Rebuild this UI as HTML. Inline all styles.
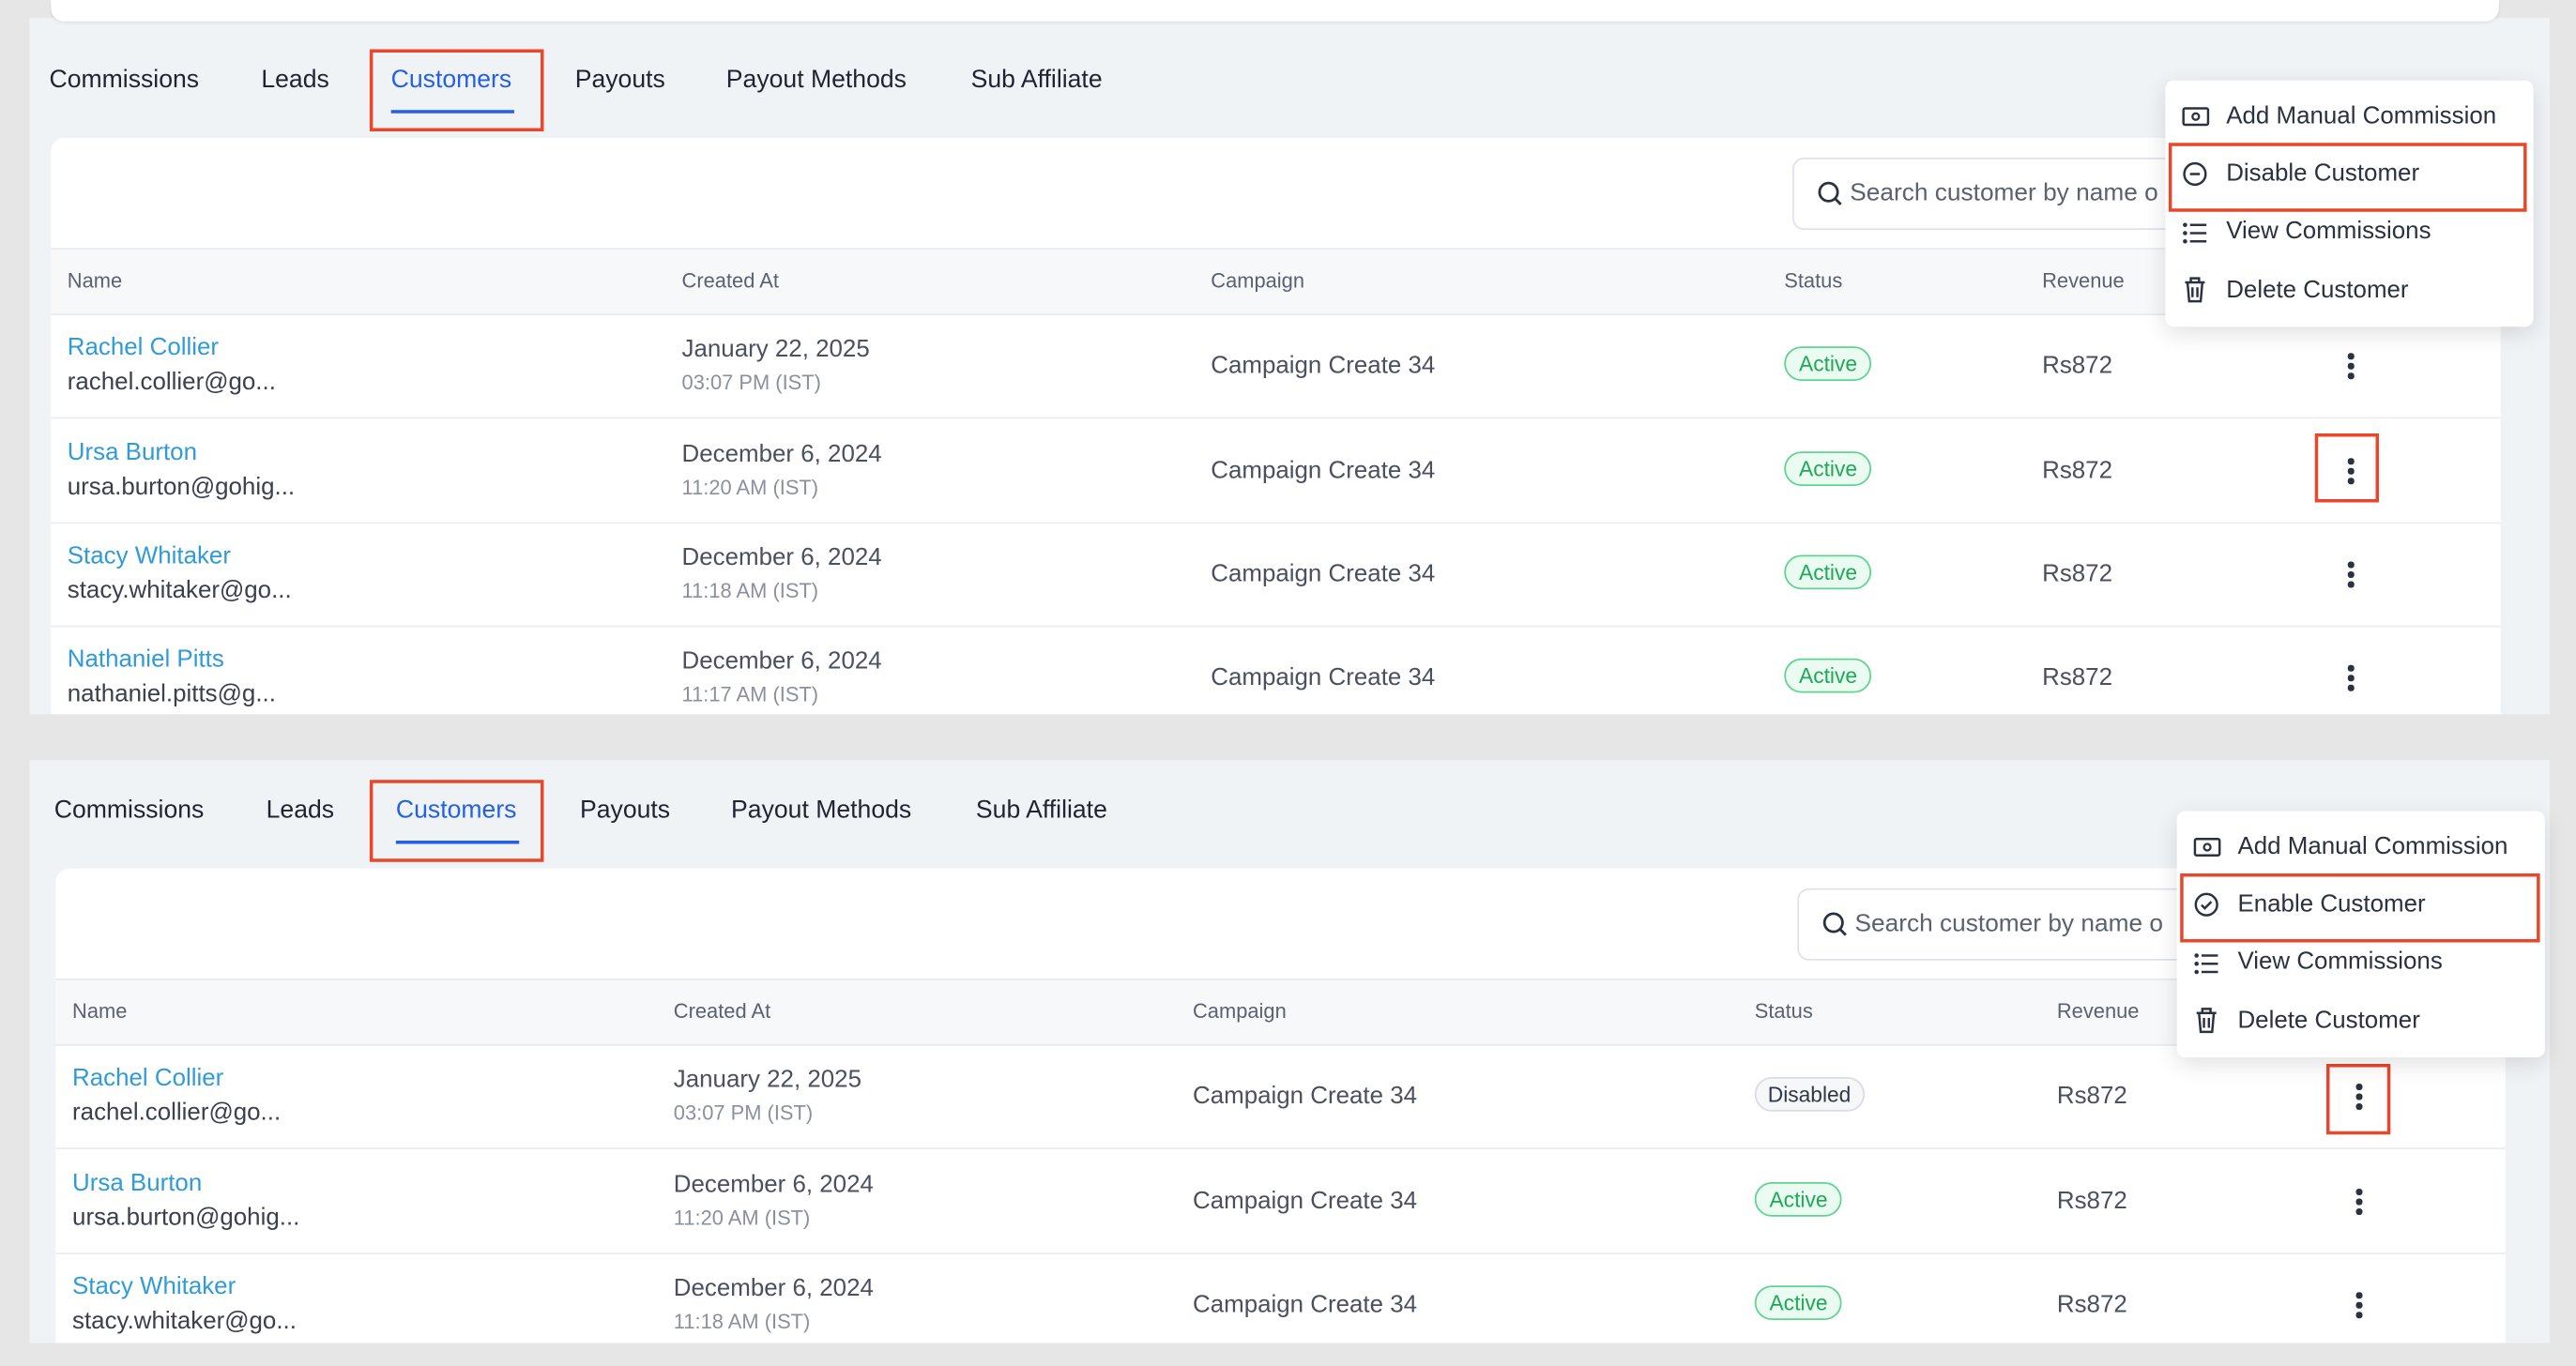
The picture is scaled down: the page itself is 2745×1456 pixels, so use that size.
<!DOCTYPE html>
<html><head><meta charset="utf-8">
<style>
html,body{margin:0;padding:0;background:#e6e6e6;overflow:hidden;}
#root{position:absolute;left:0;top:0;width:1568px;height:832px;transform-origin:0 0;transform:scale(1.7507,1.75);font-family:"Liberation Sans",sans-serif;color:#2a3140;}
.abs{position:absolute;white-space:nowrap;}
.panel{position:absolute;background:#f0f3f6;overflow:hidden;}
.card{position:absolute;background:#fff;border-radius:8px 8px 0 0;overflow:hidden;}
.tab{position:absolute;font-size:15.2px;color:#1f2430;}
.red{position:absolute;border:2px solid #e8472b;box-sizing:border-box;}
.hdr{position:absolute;left:0;right:0;background:#f7f8fa;border-top:1px solid #e7eaee;border-bottom:1px solid #e7eaee;}
.hdr span{position:absolute;top:12px;font-size:12.5px;color:#5a6170;}
.row{position:absolute;left:0;right:0;height:63px;border-bottom:1px solid #e9ecf0;}
.nm{position:absolute;top:13px;font-size:14.8px;color:#2f9bd8;}
.em{position:absolute;top:34px;font-size:14.8px;color:#3a404c;}
.dt{position:absolute;top:14px;font-size:14.8px;color:#4a5060;}
.tm{position:absolute;top:35px;font-size:12.5px;color:#8a909c;}
.cp{position:absolute;top:24px;font-size:14.8px;color:#4a5060;}
.st{position:absolute;top:20px;font-size:13px;color:#1fa855;border:1px solid #5fd38f;background:#eafbf1;border-radius:11px;padding:2px 8px;}
.st.dis{color:#2f3746;border-color:#d9dce2;background:#f6f7f9;padding:2px 7px;}
.rv{position:absolute;top:24px;font-size:14.8px;color:#4a5060;}
.dots{position:absolute;top:24px;width:4px;}
.dots i{display:block;width:3.6px;height:3.6px;border-radius:50%;background:#2a3140;margin-bottom:2.6px;}
.menu{position:absolute;background:#fff;border-radius:5px;box-shadow:0 4px 14px rgba(0,0,0,0.12);width:224px;height:150px;}
.mi{position:absolute;left:37px;font-size:14.8px;color:#2a3140;}
.search{position:absolute;border:1px solid #dfe3e8;border-radius:7px;height:42px;background:#fff;}
.search span{position:absolute;left:34px;top:12px;font-size:15px;color:#5a6170;}
</style></head><body>
<div id="root">
<!-- TOP PANEL -->
<div class="panel" style="left:18px;top:11px;width:1534px;height:424px;"></div>
<div class="abs" style="left:31px;top:0;width:1490px;height:13px;background:#fff;border-radius:0 0 8px 8px;box-shadow:0 1px 2px rgba(0,0,0,0.08);"></div>
<div class="tab" style="left:30px;top:40px;">Commissions</div>
<div class="tab" style="left:159px;top:40px;">Leads</div>
<div class="tab" style="left:238px;top:40px;color:#2460e6;">Customers</div>
<div class="abs" style="left:238px;top:67px;width:75px;height:2px;background:#2460e6;"></div>
<div class="red" style="left:225px;top:30px;width:106px;height:50px;"></div>
<div class="tab" style="left:350px;top:40px;">Payouts</div>
<div class="tab" style="left:442px;top:40px;">Payout Methods</div>
<div class="tab" style="left:591px;top:40px;">Sub Affiliate</div>
<div class="card" style="left:31px;top:84px;width:1491px;height:351px;">
  <div class="search" style="left:1060px;top:12px;width:260px;">
    <svg style="position:absolute;left:14px;top:13px" width="16" height="16" viewBox="0 0 16 16"><circle cx="7" cy="7" r="5.5" fill="none" stroke="#2a3140" stroke-width="1.6"/><line x1="11" y1="11" x2="14.5" y2="14.5" stroke="#2a3140" stroke-width="1.6"/></svg>
    <span>Search customer by name o</span></div>
  <div class="hdr" style="top:67px;height:39px;"><span style="left:10px">Name</span><span style="left:384px">Created At</span><span style="left:706px">Campaign</span><span style="left:1055px">Status</span><span style="left:1212px">Revenue</span></div>
  <div class="row" style="top:107px"><div class="nm" style="left:10px">Rachel Collier</div><div class="em" style="left:10px">rachel.collier@go...</div><div class="dt" style="left:384px">January 22, 2025</div><div class="tm" style="left:384px">03:07 PM (IST)</div><div class="cp" style="left:706px">Campaign Create 34</div><div class="st" style="left:1055px">Active</div><div class="rv" style="left:1212px">Rs872</div><div class="dots" style="left:1398px"><i></i><i></i><i></i></div></div>
  <div class="row" style="top:171px"><div class="nm" style="left:10px">Ursa Burton</div><div class="em" style="left:10px">ursa.burton@gohig...</div><div class="dt" style="left:384px">December 6, 2024</div><div class="tm" style="left:384px">11:20 AM (IST)</div><div class="cp" style="left:706px">Campaign Create 34</div><div class="st" style="left:1055px">Active</div><div class="rv" style="left:1212px">Rs872</div><div class="dots" style="left:1398px"><i></i><i></i><i></i></div></div>
  <div class="row" style="top:234px"><div class="nm" style="left:10px">Stacy Whitaker</div><div class="em" style="left:10px">stacy.whitaker@go...</div><div class="dt" style="left:384px">December 6, 2024</div><div class="tm" style="left:384px">11:18 AM (IST)</div><div class="cp" style="left:706px">Campaign Create 34</div><div class="st" style="left:1055px">Active</div><div class="rv" style="left:1212px">Rs872</div><div class="dots" style="left:1398px"><i></i><i></i><i></i></div></div>
  <div class="row" style="top:297px"><div class="nm" style="left:10px">Nathaniel Pitts</div><div class="em" style="left:10px">nathaniel.pitts@g...</div><div class="dt" style="left:384px">December 6, 2024</div><div class="tm" style="left:384px">11:17 AM (IST)</div><div class="cp" style="left:706px">Campaign Create 34</div><div class="st" style="left:1055px">Active</div><div class="rv" style="left:1212px">Rs872</div><div class="dots" style="left:1398px"><i></i><i></i><i></i></div></div>
</div>
<div class="red" style="left:1409px;top:264px;width:39px;height:42px;"></div>
<div class="menu" style="left:1318px;top:49px;">
  <svg style="position:absolute;left:10px;top:15px" width="17" height="14" viewBox="0 0 17 14"><rect x="1" y="2" width="15" height="10" rx="1" fill="none" stroke="#2a3140" stroke-width="1.4"/><circle cx="8.5" cy="7" r="2" fill="none" stroke="#2a3140" stroke-width="1.3"/></svg>
  <div class="mi" style="top:14px">Add Manual Commission</div>
  <svg style="position:absolute;left:10px;top:49px" width="16" height="16" viewBox="0 0 16 16"><circle cx="8" cy="8" r="6.5" fill="none" stroke="#2a3140" stroke-width="1.4"/><line x1="5" y1="8" x2="11" y2="8" stroke="#2a3140" stroke-width="1.4"/></svg>
  <div class="mi" style="top:49px">Disable Customer</div>
  <svg style="position:absolute;left:10px;top:86px" width="16" height="14" viewBox="0 0 16 14"><g fill="#2a3140"><circle cx="2" cy="2" r="1.3"/><circle cx="2" cy="7" r="1.3"/><circle cx="2" cy="12" r="1.3"/><rect x="5" y="1.3" width="10" height="1.4"/><rect x="5" y="6.3" width="10" height="1.4"/><rect x="5" y="11.3" width="10" height="1.4"/></g></svg>
  <div class="mi" style="top:84px">View Commissions</div>
  <svg style="position:absolute;left:11px;top:119px" width="14" height="17" viewBox="0 0 14 17"><path d="M1 4h12M4.5 4V1.5h5V4M2.5 4l1 11.5h7l1-11.5M5.5 7v6M8.5 7v6" fill="none" stroke="#2a3140" stroke-width="1.4"/></svg>
  <div class="mi" style="top:120px">Delete Customer</div>
</div>
<div class="red" style="left:1320px;top:87px;width:218px;height:42px;"></div>

<!-- BOTTOM PANEL -->
<div class="panel" style="left:18px;top:463px;width:1534px;height:355px;"></div>
<div class="tab" style="left:33px;top:485px;">Commissions</div>
<div class="tab" style="left:162px;top:485px;">Leads</div>
<div class="tab" style="left:241px;top:485px;color:#2460e6;">Customers</div>
<div class="abs" style="left:241px;top:512px;width:75px;height:2px;background:#2460e6;"></div>
<div class="red" style="left:225px;top:475px;width:106px;height:50px;"></div>
<div class="tab" style="left:353px;top:485px;">Payouts</div>
<div class="tab" style="left:445px;top:485px;">Payout Methods</div>
<div class="tab" style="left:594px;top:485px;">Sub Affiliate</div>
<div class="card" style="left:34px;top:529px;width:1491px;height:289px;">
  <div class="search" style="left:1060px;top:12px;width:260px;">
    <svg style="position:absolute;left:14px;top:13px" width="16" height="16" viewBox="0 0 16 16"><circle cx="7" cy="7" r="5.5" fill="none" stroke="#2a3140" stroke-width="1.6"/><line x1="11" y1="11" x2="14.5" y2="14.5" stroke="#2a3140" stroke-width="1.6"/></svg>
    <span>Search customer by name o</span></div>
  <div class="hdr" style="top:67px;height:39px;"><span style="left:10px">Name</span><span style="left:376px">Created At</span><span style="left:692px">Campaign</span><span style="left:1034px">Status</span><span style="left:1218px">Revenue</span></div>
  <div class="row" style="top:107px"><div class="nm" style="left:10px">Rachel Collier</div><div class="em" style="left:10px">rachel.collier@go...</div><div class="dt" style="left:376px">January 22, 2025</div><div class="tm" style="left:376px">03:07 PM (IST)</div><div class="cp" style="left:692px">Campaign Create 34</div><div class="st dis" style="left:1034px">Disabled</div><div class="rv" style="left:1218px">Rs872</div><div class="dots" style="left:1400px"><i></i><i></i><i></i></div></div>
  <div class="row" style="top:171px"><div class="nm" style="left:10px">Ursa Burton</div><div class="em" style="left:10px">ursa.burton@gohig...</div><div class="dt" style="left:376px">December 6, 2024</div><div class="tm" style="left:376px">11:20 AM (IST)</div><div class="cp" style="left:692px">Campaign Create 34</div><div class="st" style="left:1034px">Active</div><div class="rv" style="left:1218px">Rs872</div><div class="dots" style="left:1400px"><i></i><i></i><i></i></div></div>
  <div class="row" style="top:234px"><div class="nm" style="left:10px">Stacy Whitaker</div><div class="em" style="left:10px">stacy.whitaker@go...</div><div class="dt" style="left:376px">December 6, 2024</div><div class="tm" style="left:376px">11:18 AM (IST)</div><div class="cp" style="left:692px">Campaign Create 34</div><div class="st" style="left:1034px">Active</div><div class="rv" style="left:1218px">Rs872</div><div class="dots" style="left:1400px"><i></i><i></i><i></i></div></div>
</div>
<div class="red" style="left:1416px;top:648px;width:39px;height:43px;"></div>
<div class="menu" style="left:1325px;top:494px;">
  <svg style="position:absolute;left:10px;top:15px" width="17" height="14" viewBox="0 0 17 14"><rect x="1" y="2" width="15" height="10" rx="1" fill="none" stroke="#2a3140" stroke-width="1.4"/><circle cx="8.5" cy="7" r="2" fill="none" stroke="#2a3140" stroke-width="1.3"/></svg>
  <div class="mi" style="top:14px">Add Manual Commission</div>
  <svg style="position:absolute;left:10px;top:49px" width="16" height="16" viewBox="0 0 16 16"><circle cx="8" cy="8" r="6.5" fill="none" stroke="#2a3140" stroke-width="1.4"/><path d="M5 8.2l2 2 4-4" fill="none" stroke="#2a3140" stroke-width="1.4"/></svg>
  <div class="mi" style="top:49px">Enable Customer</div>
  <svg style="position:absolute;left:10px;top:86px" width="16" height="14" viewBox="0 0 16 14"><g fill="#2a3140"><circle cx="2" cy="2" r="1.3"/><circle cx="2" cy="7" r="1.3"/><circle cx="2" cy="12" r="1.3"/><rect x="5" y="1.3" width="10" height="1.4"/><rect x="5" y="6.3" width="10" height="1.4"/><rect x="5" y="11.3" width="10" height="1.4"/></g></svg>
  <div class="mi" style="top:84px">View Commissions</div>
  <svg style="position:absolute;left:11px;top:119px" width="14" height="17" viewBox="0 0 14 17"><path d="M1 4h12M4.5 4V1.5h5V4M2.5 4l1 11.5h7l1-11.5M5.5 7v6M8.5 7v6" fill="none" stroke="#2a3140" stroke-width="1.4"/></svg>
  <div class="mi" style="top:120px">Delete Customer</div>
</div>
<div class="red" style="left:1327px;top:532px;width:219px;height:42px;"></div>
</div>
</body></html>
